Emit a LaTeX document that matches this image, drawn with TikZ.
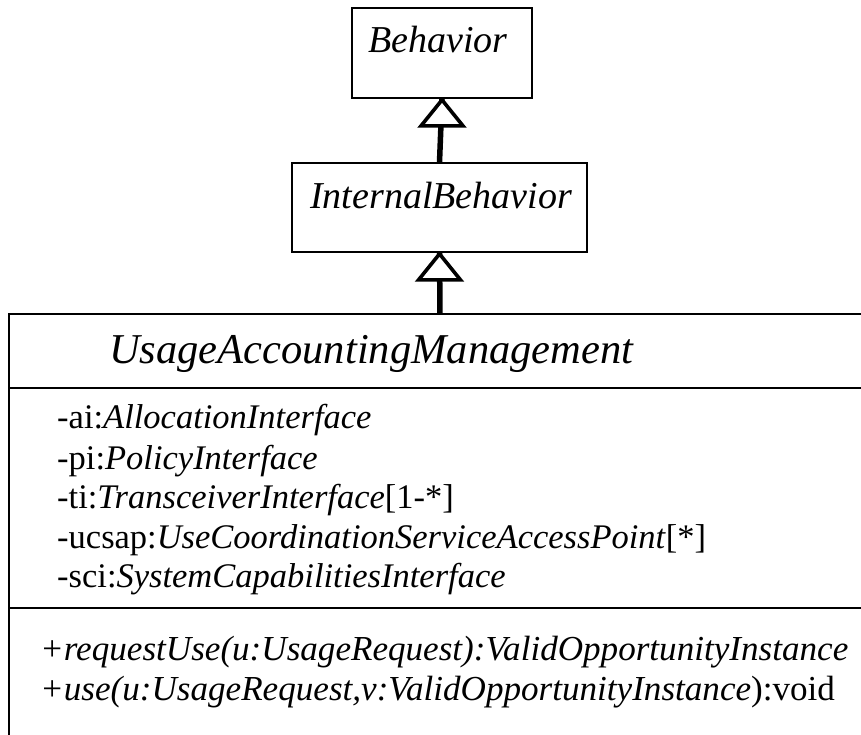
\documentclass[tikz,border=0pt]{standalone}
\usepackage{fontspec}
\setmainfont{Liberation Serif}
\tikzset{
  smallbox/.style={draw=black, line width=1.8pt, inner sep=0pt, fill=none},
  boxtext/.style={anchor=base, inner sep=0pt, font=\fontsize{38}{44}\selectfont\itshape},
  titletext/.style={anchor=base west, inner sep=0pt, font=\fontsize{42.5}{48}\selectfont\itshape},
  membertext/.style={anchor=base west, inner sep=0pt, font=\fontsize{34.5}{40}\selectfont},
  optext/.style={anchor=base west, inner sep=0pt, font=\fontsize{35.1}{40}\selectfont},
  mainline/.style={line width=2.6pt, line cap=rect},
  stem/.style={line width=5.5pt},
  opentri/.style={draw=black, fill=white, line width=3.6pt, line join=miter}
}
\begin{document}
\begin{tikzpicture}[x=1pt, y=-1pt]
\useasboundingbox (0,0) rectangle (861,734);
% Behavior
\node[smallbox, minimum width=180pt, minimum height=90pt] (beh) at (442,53) {};
\node[boxtext] (behT) at (438,52) {Behavior};
% InternalBehavior
\node[smallbox, minimum width=295pt, minimum height=89pt] (ib) at (439.5,207.5) {};
\node[boxtext] (ibT) at (441,208) {InternalBehavior};
% main class (cut off right and bottom)
\coordinate (uamTL) at (9,314);
\coordinate (uamTR) at (861,314);
\coordinate (uamBL) at (9,734);
\coordinate (sep1L) at (9,388);
\coordinate (sep1R) at (861,388);
\coordinate (sep2L) at (9,608);
\coordinate (sep2R) at (861,608);
\coordinate (uamTop) at (440,314);
\draw[mainline] (uamTR) -- (uamTL) -- (uamBL);
\draw[mainline] (sep1L) -- (sep1R);
\draw[mainline] (sep2L) -- (sep2R);
\node[titletext] (title) at (109,363) {UsageAccountingManagement};
\node[membertext] (a1) at (57,428) {-ai:\textit{AllocationInterface}};
\node[membertext] (a2) at (57,469) {-pi:\textit{PolicyInterface}};
\node[membertext] (a3) at (57,508) {-ti:\textit{TransceiverInterface}[1-*]};
\node[membertext] (a4) at (57,548) {-ucsap:\textit{UseCoordinationServiceAccessPoint}[*]};
\node[membertext] (a5) at (57,587) {-sci:\textit{SystemCapabilitiesInterface}};
\node[optext] (o1) at (40,660) {\textit{+requestUse(u:UsageRequest):ValidOpportunityInstance}};
\node[optext] (o2) at (40,700) {\textit{+use(u:UsageRequest,v:ValidOpportunityInstance}):void};
% generalizations
\draw[stem] (ib.north) -- (beh.south);
\draw[opentri] ([yshift=-1pt]beh.south) -- ++(-21,26) -- ++(42,0) -- cycle;
\draw[stem] (uamTop) -- (ib.south);
\draw[opentri] ([yshift=-1pt]ib.south) -- ++(-21,26) -- ++(42,0) -- cycle;
\end{tikzpicture}
\end{document}
